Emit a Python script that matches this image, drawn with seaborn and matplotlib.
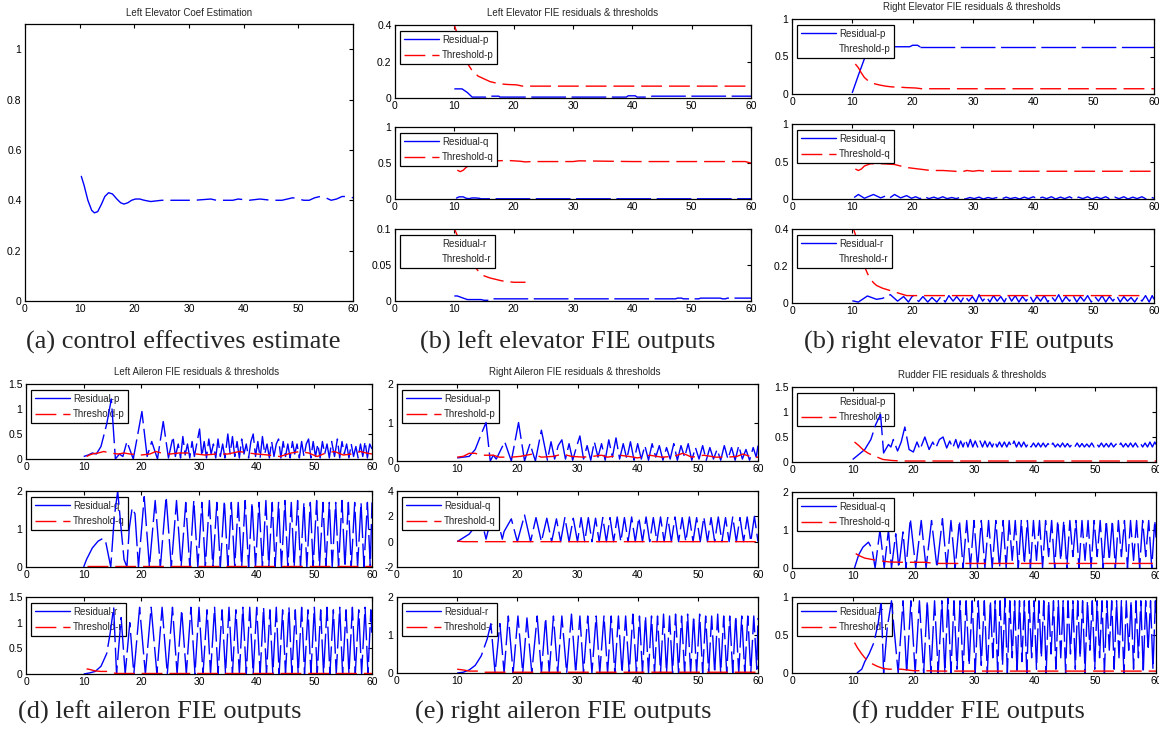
import matplotlib
matplotlib.use("Agg")
import matplotlib.pyplot as plt
from matplotlib.lines import Line2D
import seaborn as sns

sns.set_theme(style="white")
plt.rcParams["font.family"] = ["Liberation Sans", "DejaVu Sans"]

# ---------------- data: (time s, value) ----------------
coef_est = [(10.3, 0.495), (10.8, 0.46), (11.5, 0.40), (12.2, 0.36), (12.7, 0.35), (13.3, 0.355),
            (14.0, 0.385), (14.6, 0.415), (15.3, 0.43), (16.0, 0.425), (16.8, 0.405), (17.5, 0.39),
            (18.1, 0.385), (18.8, 0.39), (19.5, 0.40), (20.2, 0.405), (21.0, 0.405), (21.8, 0.40),
            (23.0, 0.395), (25.0, 0.40), (28.0, 0.40), (31.0, 0.40), (34.0, 0.405), (35.0, 0.40),
            (38.0, 0.40), (39.0, 0.405), (41.0, 0.40), (43.0, 0.405), (45.0, 0.40), (47.0, 0.40),
            (48.0, 0.405), (49.0, 0.41), (50.0, 0.405), (51.0, 0.40), (52.0, 0.40), (53.0, 0.41),
            (54.0, 0.415), (55.0, 0.41), (56.0, 0.40), (57.0, 0.405), (58.0, 0.415), (59.0, 0.415),
            (60.0, 0.41)]

# left elevator
le_res_p = [(10.0, 0.05), (11.3, 0.05), (12.2, 0.03), (13.0, 0.005), (15.3, 0.005), (15.5, 0.01),
            (17.5, 0.01), (17.7, 0.005), (39.0, 0.005), (39.3, 0.012), (40.5, 0.012), (40.8, 0.005),
            (43.0, 0.005), (43.3, 0.01), (60.0, 0.01)]
le_thr_p = [(10.0, 0.40), (10.3, 0.37), (11.0, 0.28), (12.0, 0.20), (13.0, 0.15), (14.0, 0.12),
            (15.0, 0.105), (16.0, 0.09), (17.5, 0.078), (19.0, 0.074), (20.5, 0.072), (21.5, 0.065),
            (60.0, 0.065)]
le_res_q = [(10.3, 0.01), (10.8, 0.03), (11.5, 0.03), (12.0, 0.01), (12.5, 0.005), (13.0, 0.015),
            (13.5, 0.015), (14.2, 0.01), (14.5, 0.003), (60.0, 0.003)]
le_thr_q = [(10.5, 0.40), (11.0, 0.38), (11.5, 0.40), (12.0, 0.44), (13.0, 0.49), (15.0, 0.52),
            (17.0, 0.53), (19.0, 0.535), (21.0, 0.525), (22.0, 0.515), (23.0, 0.52), (30.0, 0.52),
            (31.0, 0.53), (40.0, 0.52), (59.0, 0.52), (60.0, 0.50)]
le_res_r = [(10.0, 0.007), (10.5, 0.007), (11.5, 0.004), (12.2, 0.002), (14.5, 0.002), (15.0, 0.001),
            (15.8, 0.001), (16.2, 0.003), (47.3, 0.003), (47.6, 0.004), (48.3, 0.004), (48.6, 0.003),
            (51.2, 0.003), (51.5, 0.004), (54.8, 0.004), (55.2, 0.003), (55.7, 0.003), (56.0, 0.004),
            (60.0, 0.004)]
le_thr_r = [(10.0, 0.10), (10.3, 0.095), (11.0, 0.08), (12.0, 0.065), (13.0, 0.052), (14.0, 0.042),
            (15.0, 0.035), (16.0, 0.032), (17.0, 0.030), (18.0, 0.028), (19.0, 0.027), (20.0, 0.026),
            (22.0, 0.026)]

# right elevator
re_res_p = [(10.0, 0.02), (11.0, 0.25), (12.0, 0.47), (12.7, 0.58), (13.5, 0.63), (18.0, 0.63),
            (19.5, 0.63), (20.0, 0.65), (20.8, 0.65), (21.2, 0.63), (60.0, 0.63)]
re_thr_p = [(10.5, 0.40), (11.0, 0.35), (11.5, 0.28), (12.0, 0.22), (12.7, 0.17), (13.5, 0.14),
            (14.5, 0.12), (15.5, 0.105), (16.5, 0.095), (18.0, 0.09), (19.0, 0.085), (20.5, 0.08),
            (21.5, 0.07), (60.0, 0.07)]
re_res_q = [(10.3, 0.02), (11.0, 0.06), (12.0, 0.01), (13.5, 0.06), (14.7, 0.015), (15.5, 0.04),
            (16.2, 0.015), (17.0, 0.06), (18.0, 0.015), (19.0, 0.045), (19.8, 0.01), (20.5, 0.03),
            (21.2, 0.005), (22.0, 0.03), (22.7, 0.005), (23.5, 0.025), (24.2, 0.005), (25.0, 0.03),
            (25.7, 0.005), (26.5, 0.02), (27.2, 0.005), (28.0, 0.025), (28.7, 0.0), (29.5, 0.02),
            (30.2, 0.005), (31.0, 0.025), (31.7, 0.0), (32.5, 0.02), (33.2, 0.005), (34.0, 0.02),
            (34.7, 0.0), (35.5, 0.025), (36.2, 0.005), (37.0, 0.02), (37.7, 0.0), (38.5, 0.025),
            (39.2, 0.005), (40.0, 0.03), (40.7, 0.0), (41.5, 0.025), (42.2, 0.005), (43.0, 0.03),
            (43.7, 0.0), (44.5, 0.025), (45.2, 0.005), (46.0, 0.03), (46.7, 0.0), (47.5, 0.025),
            (48.2, 0.005), (49.0, 0.03), (49.7, 0.0), (50.5, 0.025), (51.2, 0.005), (52.0, 0.03),
            (52.7, 0.0), (53.5, 0.025), (54.2, 0.005), (55.0, 0.03), (55.7, 0.0), (56.5, 0.025),
            (57.2, 0.005), (58.0, 0.03), (58.7, 0.0), (59.5, 0.025), (60.0, 0.01)]
re_thr_q = [(10.5, 0.40), (11.0, 0.38), (11.5, 0.40), (12.0, 0.44), (13.0, 0.47), (15.0, 0.47),
            (17.0, 0.46), (18.0, 0.44), (19.0, 0.42), (20.0, 0.41), (21.0, 0.40), (22.0, 0.39),
            (23.0, 0.38), (25.0, 0.38), (27.0, 0.37), (28.0, 0.36), (29.0, 0.38), (30.0, 0.37),
            (31.0, 0.38), (32.0, 0.37), (60.0, 0.37)]
re_res_r = [(10.0, 0.012), (11.0, 0.005), (12.5, 0.038), (14.0, 0.02), (15.0, 0.025), (16.3, 0.045),
            (17.5, 0.01), (18.5, 0.035), (19.3, 0.005), (20.0, 0.04), (21.0, 0.008), (21.7, 0.035),
            (22.5, 0.005), (23.2, 0.03), (24.0, 0.005), (24.7, 0.035), (25.4, 0.005), (26.0, 0.04),
            (26.7, 0.01), (27.3, 0.035), (28.0, 0.005), (28.6, 0.04), (29.3, 0.01), (29.9, 0.035),
            (30.5, 0.005), (31.0, 0.045), (31.6, 0.01), (32.2, 0.035), (32.8, 0.005), (33.4, 0.04),
            (34.0, 0.01), (34.6, 0.035), (35.2, 0.005), (35.8, 0.045), (36.4, 0.01), (37.0, 0.04),
            (37.6, 0.005), (38.2, 0.035), (38.8, 0.01), (39.4, 0.04), (40.0, 0.005), (40.6, 0.035),
            (41.2, 0.01), (41.8, 0.04), (42.4, 0.005), (43.0, 0.035), (43.6, 0.01), (44.2, 0.045),
            (44.8, 0.005), (45.4, 0.035), (46.0, 0.01), (46.6, 0.04), (47.2, 0.005), (47.8, 0.035),
            (48.4, 0.01), (49.0, 0.04), (49.6, 0.005), (50.2, 0.035), (50.8, 0.01), (51.4, 0.04),
            (52.0, 0.005), (52.6, 0.035), (53.2, 0.01), (53.8, 0.04), (54.4, 0.005), (55.0, 0.035),
            (55.6, 0.01), (56.2, 0.03), (56.8, 0.005), (57.4, 0.035), (58.0, 0.01), (58.6, 0.04),
            (59.2, 0.005), (59.7, 0.04), (60.0, 0.02)]
re_thr_r = [(10.2, 0.40), (10.5, 0.37), (11.0, 0.31), (11.5, 0.25), (12.0, 0.20), (12.5, 0.16),
            (13.0, 0.13), (13.5, 0.11), (14.0, 0.095), (15.0, 0.08), (16.0, 0.07), (17.0, 0.06),
            (18.0, 0.05), (19.0, 0.04), (58.0, 0.04)]

# left aileron
la_res_p = [(10.0, 0.05), (10.8, 0.08), (11.5, 0.12), (12.2, 0.1), (13.0, 0.25), (14.0, 0.7),
            (14.8, 1.2), (15.5, 0.0), (16.2, 0.1), (16.8, 0.05), (17.5, 0.35), (18.6, 0.0),
            (20.1, 0.95), (21.0, 0.05), (21.8, 0.35), (22.8, 0.0), (23.8, 0.75), (24.7, 0.02),
            (25.5, 0.45), (25.9, 0.05), (26.4, 0.3), (26.8, 0.02), (27.2, 0.45), (27.6, 0.08),
            (28.0, 0.3), (28.4, 0.02), (28.8, 0.35), (29.2, 0.05), (29.6, 0.3), (30.1, 0.6),
            (30.5, 0.05), (30.9, 0.35), (31.3, 0.02), (31.7, 0.4), (32.1, 0.1), (32.5, 0.3),
            (32.9, 0.02), (33.3, 0.4), (33.7, 0.05), (34.1, 0.3), (34.5, 0.02), (35.0, 0.5),
            (35.4, 0.1), (35.8, 0.45), (36.2, 0.05), (36.6, 0.35), (37.0, 0.02), (37.4, 0.4),
            (37.8, 0.1), (38.2, 0.3), (38.6, 0.02), (39.0, 0.35), (39.4, 0.5), (39.8, 0.05),
            (40.2, 0.35), (40.6, 0.02), (41.0, 0.45), (41.4, 0.1), (41.8, 0.3), (42.2, 0.02),
            (42.6, 0.35), (43.0, 0.05), (43.4, 0.3), (43.8, 0.4), (44.2, 0.02), (44.6, 0.35),
            (45.0, 0.05), (45.4, 0.3), (45.8, 0.02), (46.2, 0.35), (46.6, 0.1), (47.0, 0.3),
            (47.4, 0.02), (47.8, 0.35), (48.2, 0.05), (48.6, 0.3), (49.0, 0.4), (49.4, 0.02),
            (49.8, 0.35), (50.2, 0.05), (50.6, 0.3), (51.0, 0.02), (51.4, 0.35), (51.8, 0.1),
            (52.2, 0.3), (52.6, 0.02), (53.0, 0.35), (53.5, 0.05), (54.0, 0.4), (54.4, 0.02),
            (54.8, 0.35), (55.2, 0.1), (55.6, 0.3), (56.0, 0.02), (56.4, 0.3), (56.8, 0.05),
            (57.2, 0.25), (57.6, 0.02), (58.0, 0.3), (58.4, 0.05), (58.8, 0.35), (59.2, 0.02),
            (59.6, 0.3), (60.0, 0.2)]
la_thr_p = [(10.5, 0.05), (11.0, 0.08), (11.5, 0.1), (12.5, 0.12), (13.5, 0.15), (14.5, 0.12),
            (16.0, 0.1), (17.0, 0.12), (18.0, 0.1), (20.0, 0.08), (21.5, 0.1), (22.5, 0.15),
            (23.5, 0.12), (25.0, 0.1), (26.5, 0.12), (28.0, 0.12), (29.5, 0.1), (31.0, 0.08),
            (33.0, 0.1), (35.0, 0.1), (37.0, 0.15), (38.5, 0.12), (40.0, 0.1), (42.0, 0.08),
            (44.0, 0.05), (46.0, 0.12), (47.5, 0.15), (49.0, 0.12), (50.5, 0.05), (52.0, 0.12),
            (53.5, 0.15), (55.0, 0.08), (56.5, 0.1), (58.0, 0.15), (59.0, 0.12), (60.0, 0.1)]
la_res_q = [(10.0, 0.0), (10.5, 0.2), (11.5, 0.5), (12.5, 0.68), (13.3, 0.75), (13.8, 0.68),
            (14.3, 0.3), (14.7, 0.0), (15.3, 1.3), (15.9, 2.0), (16.5, 1.0), (17.0, 0.2),
            (17.5, 0.0), (17.9, 1.0), (18.4, 1.55), (18.9, 1.4), (19.5, 0.0), (20.5, 1.85),
            (21.4, 0.0), (22.4, 1.75), (23.3, 0.0), (24.3, 1.85), (25.2, 0.0), (26.1, 1.75),
            (26.9, 0.0), (27.7, 1.7), (28.4, 0.0), (29.1, 1.75), (29.8, 0.0), (30.5, 1.7),
            (31.1, 0.0), (31.8, 1.75), (32.4, 0.0), (33.1, 1.7), (33.7, 0.0), (34.4, 1.75),
            (35.0, 0.0), (35.6, 1.7), (36.2, 0.0), (36.8, 1.7), (37.4, 0.0), (38.0, 1.75),
            (38.6, 0.0), (39.2, 1.7), (39.8, 0.0), (40.4, 1.7), (41.0, 0.0), (41.6, 1.75),
            (42.1, 0.0), (42.7, 1.7), (43.2, 0.0), (43.8, 1.7), (44.3, 0.0), (44.9, 1.75),
            (45.4, 0.0), (46.0, 1.7), (46.5, 0.0), (47.1, 1.75), (47.6, 0.0), (48.2, 1.7),
            (48.7, 0.0), (49.3, 1.7), (49.8, 0.0), (50.4, 1.75), (50.9, 0.0), (51.5, 1.7),
            (52.0, 0.0), (52.6, 1.7), (53.1, 0.0), (53.7, 1.7), (54.2, 0.0), (54.8, 1.75),
            (55.3, 0.0), (55.9, 1.7), (56.4, 0.0), (57.0, 1.7), (57.5, 0.0), (58.1, 1.7),
            (58.6, 0.0), (59.2, 1.7), (59.7, 0.0), (60.0, 1.7)]
la_thr_q = [(10.5, 0.03), (60.0, 0.03)]
la_res_r = [(10.0, 0.0), (11.0, 0.02), (12.0, 0.05), (13.0, 0.15), (14.0, 0.4), (14.6, 0.8),
            (15.2, 1.3), (15.7, 0.0), (16.5, 1.1), (17.2, 0.0), (18.0, 1.0), (18.7, 0.0),
            (19.7, 1.3), (20.7, 0.0), (21.7, 1.3), (22.7, 0.0), (23.6, 1.3), (24.5, 0.0),
            (25.4, 1.3), (26.2, 0.0), (27.0, 1.25), (27.8, 0.0), (28.6, 1.3), (29.3, 0.0),
            (30.0, 1.3), (30.7, 0.0), (31.4, 1.25), (32.0, 0.0), (32.7, 1.3), (33.3, 0.0),
            (34.0, 1.25), (34.6, 0.0), (35.2, 1.3), (35.8, 0.0), (36.4, 1.25), (37.0, 0.0),
            (37.6, 1.3), (38.2, 0.0), (38.8, 1.3), (39.4, 0.0), (40.0, 1.3), (40.6, 0.0),
            (41.2, 1.3), (41.7, 0.0), (42.3, 1.25), (42.8, 0.0), (43.4, 1.3), (43.9, 0.0),
            (44.5, 1.25), (45.0, 0.0), (45.6, 1.3), (46.1, 0.0), (46.7, 1.25), (47.2, 0.0),
            (47.8, 1.3), (48.3, 0.0), (48.9, 1.25), (49.4, 0.0), (50.0, 1.3), (50.5, 0.0),
            (51.1, 1.25), (51.6, 0.0), (52.2, 1.3), (52.7, 0.0), (53.3, 1.25), (53.8, 0.0),
            (54.4, 1.3), (54.9, 0.0), (55.5, 1.25), (56.0, 0.0), (56.6, 1.3), (57.1, 0.0),
            (57.7, 1.25), (58.2, 0.0), (58.8, 1.3), (59.3, 0.0), (59.8, 1.25), (60.0, 0.7)]
la_thr_r = [(10.5, 0.1), (11.0, 0.09), (12.0, 0.06), (13.0, 0.05), (14.0, 0.05), (15.0, 0.02),
            (16.0, 0.01), (60.0, 0.01)]

# right aileron
ra_res_p = [(10.0, 0.08), (11.0, 0.1), (12.0, 0.12), (13.0, 0.3), (14.0, 0.7), (14.8, 1.0),
            (15.5, 0.0), (16.0, 0.15), (16.5, 0.05), (17.9, 0.5), (19.0, 0.0), (20.2, 1.0),
            (21.2, 0.0), (22.1, 0.45), (23.0, 0.0), (24.0, 0.8), (25.0, 0.02), (25.6, 0.5),
            (26.2, 0.05), (26.8, 0.4), (27.4, 0.55), (28.0, 0.05), (28.6, 0.45), (29.2, 0.02),
            (29.8, 0.35), (30.4, 0.65), (31.0, 0.05), (31.6, 0.4), (32.2, 0.02), (32.8, 0.5),
            (33.4, 0.1), (34.0, 0.45), (34.6, 0.02), (35.2, 0.55), (35.8, 0.1), (36.4, 0.6),
            (37.0, 0.05), (37.6, 0.45), (38.2, 0.05), (38.8, 0.5), (39.4, 0.02), (40.0, 0.45),
            (40.6, 0.05), (41.2, 0.4), (41.8, 0.02), (42.4, 0.45), (43.0, 0.1), (43.6, 0.4),
            (44.2, 0.02), (44.8, 0.35), (45.4, 0.05), (46.0, 0.45), (46.6, 0.02), (47.2, 0.4),
            (47.8, 0.1), (48.4, 0.45), (49.0, 0.02), (49.6, 0.35), (50.2, 0.05), (50.8, 0.4),
            (51.4, 0.02), (52.0, 0.35), (52.6, 0.05), (53.2, 0.3), (53.8, 0.02), (54.4, 0.4),
            (55.0, 0.05), (55.6, 0.35), (56.2, 0.02), (56.8, 0.4), (57.4, 0.05), (58.0, 0.3),
            (58.6, 0.02), (59.2, 0.35), (59.7, 0.1), (60.0, 0.4)]
ra_thr_p = [(10.0, 0.1), (11.0, 0.12), (12.0, 0.2), (13.0, 0.2), (14.0, 0.15), (16.0, 0.15),
            (17.0, 0.1), (19.0, 0.1), (20.5, 0.12), (22.5, 0.18), (24.0, 0.1), (26.0, 0.12),
            (27.5, 0.18), (29.0, 0.12), (31.0, 0.1), (32.5, 0.12), (34.0, 0.15), (35.0, 0.1),
            (37.0, 0.15), (38.5, 0.12), (40.0, 0.08), (42.0, 0.15), (44.0, 0.1), (46.0, 0.12),
            (47.5, 0.2), (49.0, 0.1), (51.0, 0.15), (53.0, 0.1), (55.0, 0.1), (56.5, 0.12),
            (57.5, 0.18), (59.0, 0.1), (60.0, 0.1)]
ra_res_q = [(10.0, 0.0), (11.0, 0.3), (12.0, 0.6), (13.0, 1.2), (14.0, 1.5), (14.5, 0.8),
            (14.8, 0.2), (15.1, 0.8), (16.0, 1.6), (17.2, 0.8), (17.5, 0.2), (17.8, 0.8),
            (19.0, 1.8), (20.0, 0.0), (21.2, 2.1), (22.2, 0.0), (23.1, 1.9), (24.0, 0.0),
            (24.9, 1.85), (25.7, 0.0), (26.5, 1.8), (27.2, 0.0), (27.9, 1.9), (28.6, 0.0),
            (29.3, 1.85), (30.0, 0.0), (30.6, 1.9), (31.2, 0.0), (31.8, 1.9), (32.4, 0.0),
            (33.0, 1.85), (33.6, 0.0), (34.2, 1.9), (34.8, 0.0), (35.4, 1.9), (36.0, 0.0),
            (36.6, 1.95), (37.2, 0.0), (37.8, 1.9), (38.4, 0.0), (39.0, 1.95), (39.6, 0.0),
            (40.2, 1.9), (40.8, 0.0), (41.4, 1.95), (42.0, 0.0), (42.6, 1.9), (43.2, 0.0),
            (43.8, 1.95), (44.4, 0.0), (45.0, 1.9), (45.6, 0.0), (46.2, 1.95), (46.8, 0.0),
            (47.4, 1.9), (48.0, 0.0), (48.6, 1.95), (49.2, 0.0), (49.8, 1.9), (50.4, 0.0),
            (51.0, 1.95), (51.6, 0.0), (52.2, 1.9), (52.8, 0.0), (53.4, 1.95), (54.0, 0.0),
            (54.6, 1.9), (55.2, 0.0), (55.8, 1.95), (56.4, 0.0), (57.0, 1.9), (57.6, 0.0),
            (58.2, 1.95), (58.8, 0.0), (59.4, 2.0), (60.0, 0.0)]
ra_thr_q = [(10.0, 0.05), (11.0, 0.0), (60.0, 0.0)]
ra_res_r = [(10.0, 0.0), (11.0, 0.02), (12.0, 0.08), (13.0, 0.2), (14.0, 0.45), (15.0, 0.9),
            (15.6, 1.3), (16.3, 0.0), (17.1, 1.3), (17.8, 0.0), (18.5, 1.5), (19.3, 0.0),
            (20.1, 1.5), (20.9, 0.0), (21.6, 1.45), (22.4, 0.0), (23.3, 1.5), (24.0, 0.0),
            (24.7, 1.45), (25.3, 0.0), (26.0, 1.5), (26.7, 0.0), (27.4, 1.5), (28.2, 0.0),
            (29.0, 1.55), (29.7, 0.0), (30.4, 1.5), (31.0, 0.0), (31.7, 1.5), (32.4, 0.0),
            (33.1, 1.5), (33.7, 0.0), (34.4, 1.5), (35.0, 0.0), (35.6, 1.5), (36.2, 0.0),
            (36.8, 1.5), (37.4, 0.0), (38.0, 1.5), (38.6, 0.0), (39.2, 1.55), (39.8, 0.0),
            (40.3, 1.5), (40.8, 0.0), (41.3, 1.5), (41.8, 0.0), (42.3, 1.5), (42.8, 0.0),
            (43.3, 1.5), (43.8, 0.0), (44.3, 1.55), (44.8, 0.0), (45.3, 1.5), (45.8, 0.0),
            (46.3, 1.55), (46.8, 0.0), (47.3, 1.5), (47.8, 0.0), (48.3, 1.55), (48.8, 0.0),
            (49.3, 1.5), (49.8, 0.0), (50.3, 1.55), (50.8, 0.0), (51.3, 1.5), (51.8, 0.0),
            (52.3, 1.5), (52.8, 0.0), (53.3, 1.55), (53.8, 0.0), (54.3, 1.5), (54.8, 0.0),
            (55.3, 1.5), (55.8, 0.0), (56.3, 1.5), (56.8, 0.0), (57.3, 1.5), (57.8, 0.0),
            (58.3, 1.5), (58.8, 0.0), (59.3, 1.5), (59.8, 0.1), (60.0, 1.45)]
ra_thr_r = [(10.0, 0.1), (11.0, 0.08), (12.0, 0.05), (13.5, 0.05), (14.5, 0.02), (60.0, 0.02)]

# rudder
ru_res_p = [(10.0, 0.05), (11.0, 0.15), (12.0, 0.25), (13.0, 0.45), (13.8, 0.75), (14.6, 0.95),
            (15.1, 0.18), (15.9, 0.35), (16.3, 0.3), (16.7, 0.45), (17.4, 0.22), (18.0, 0.4),
            (18.6, 0.7), (19.3, 0.25), (20.0, 0.2), (20.6, 0.4), (21.1, 0.25), (21.9, 0.5),
            (22.6, 0.25), (23.2, 0.4), (23.7, 0.28), (24.3, 0.45), (24.9, 0.5), (25.5, 0.28),
            (26.0, 0.42), (26.5, 0.28), (27.0, 0.45), (27.4, 0.28), (27.8, 0.42), (28.2, 0.3),
            (28.6, 0.45), (29.0, 0.3), (29.4, 0.45), (29.8, 0.3), (30.2, 0.42), (30.6, 0.3),
            (31.0, 0.42), (31.4, 0.3), (31.8, 0.42), (32.2, 0.3), (32.6, 0.4), (33.0, 0.3),
            (33.4, 0.42), (33.8, 0.3), (34.2, 0.4), (34.6, 0.3), (35.0, 0.4), (35.4, 0.3),
            (35.8, 0.4), (36.2, 0.3), (36.6, 0.42), (37.0, 0.3), (37.4, 0.4), (37.8, 0.3),
            (38.2, 0.4), (38.6, 0.3), (39.0, 0.38), (39.4, 0.3), (39.8, 0.38), (40.2, 0.3),
            (40.6, 0.38), (41.0, 0.3), (41.4, 0.38), (41.8, 0.3), (42.2, 0.37), (42.6, 0.3),
            (43.0, 0.38), (43.4, 0.3), (43.8, 0.36), (44.2, 0.3), (44.6, 0.38), (45.0, 0.3),
            (45.4, 0.37), (45.8, 0.3), (46.2, 0.36), (46.6, 0.3), (47.0, 0.38), (47.4, 0.3),
            (47.8, 0.37), (48.2, 0.3), (48.6, 0.36), (49.0, 0.3), (49.4, 0.38), (49.8, 0.3),
            (50.2, 0.37), (50.6, 0.3), (51.0, 0.38), (51.4, 0.3), (51.8, 0.37), (52.2, 0.3),
            (52.6, 0.38), (53.0, 0.3), (53.4, 0.36), (53.8, 0.3), (54.2, 0.38), (54.6, 0.3),
            (55.0, 0.37), (55.4, 0.3), (55.8, 0.38), (56.2, 0.3), (56.6, 0.38), (57.0, 0.3),
            (57.4, 0.38), (57.8, 0.3), (58.2, 0.38), (58.6, 0.3), (59.0, 0.4), (59.4, 0.3),
            (59.8, 0.4), (60.0, 0.35)]
ru_thr_p = [(10.3, 0.4), (11.0, 0.33), (11.5, 0.27), (12.0, 0.22), (12.5, 0.18), (13.0, 0.15),
            (14.0, 0.1), (15.0, 0.05), (16.5, 0.03), (18.0, 0.02), (60.0, 0.02)]
ru_res_q = [(10.3, 0.0), (11.0, 0.35), (11.7, 0.55), (12.6, 0.68), (13.2, 0.5), (13.7, 0.0),
            (14.5, 1.0), (15.2, 0.0), (15.9, 1.0), (16.4, 0.0), (17.1, 0.9), (17.6, 0.0),
            (18.3, 0.95), (18.8, 0.0), (19.5, 1.3), (20.4, 0.0), (21.3, 1.25), (22.1, 0.0),
            (23.0, 1.25), (23.9, 0.0), (24.8, 1.3), (25.5, 0.0), (26.2, 1.25), (26.9, 0.0),
            (27.6, 1.25), (28.2, 0.0), (28.8, 1.25), (29.4, 0.0), (30.0, 1.25), (30.6, 0.0),
            (31.2, 1.25), (31.8, 0.0), (32.4, 1.25), (33.0, 0.0), (33.6, 1.25), (34.2, 0.0),
            (34.8, 1.25), (35.3, 0.0), (35.8, 1.25), (36.3, 0.2), (36.8, 1.25), (37.3, 0.0),
            (37.8, 1.25), (38.3, 0.1), (38.8, 1.25), (39.3, 0.0), (39.8, 1.25), (40.3, 0.2),
            (40.8, 1.25), (41.3, 0.0), (41.8, 1.25), (42.3, 0.3), (42.8, 1.25), (43.3, 0.0),
            (43.8, 1.25), (44.3, 0.2), (44.8, 1.25), (45.3, 0.0), (45.8, 1.25), (46.3, 0.3),
            (46.8, 1.25), (47.3, 0.0), (47.8, 1.25), (48.3, 0.2), (48.8, 1.25), (49.3, 0.0),
            (49.8, 1.25), (50.3, 0.3), (50.8, 1.25), (51.3, 0.0), (51.8, 1.25), (52.3, 0.2),
            (52.8, 1.25), (53.3, 0.0), (53.8, 1.25), (54.3, 0.3), (54.8, 1.25), (55.3, 0.0),
            (55.8, 1.25), (56.3, 0.2), (56.8, 1.25), (57.3, 0.0), (57.8, 1.25), (58.3, 0.3),
            (58.8, 1.25), (59.3, 0.0), (59.8, 1.25), (60.0, 0.8)]
ru_thr_q = [(10.5, 0.38), (11.0, 0.33), (12.0, 0.26), (13.0, 0.23), (14.0, 0.2), (15.0, 0.18),
            (16.0, 0.16), (18.0, 0.15), (22.0, 0.15), (23.0, 0.13), (24.0, 0.12), (60.0, 0.12)]
ru_res_r = [(10.7, 0.0), (11.5, 0.05), (12.0, 0.15), (12.7, 0.25), (13.5, 0.4), (14.2, 0.65),
            (14.7, 0.95), (15.1, 0.0), (15.7, 0.6), (16.4, 0.95), (17.5, 0.0), (18.3, 0.95),
            (18.9, 0.0), (19.6, 0.95), (20.3, 0.0), (21.0, 0.95), (21.7, 0.0), (22.3, 0.95),
            (22.9, 0.0), (23.5, 0.95), (24.1, 0.0), (24.7, 0.95), (25.2, 0.0), (25.7, 0.98),
            (26.2, 0.0), (26.7, 0.95), (27.2, 0.05), (27.7, 0.95), (28.2, 0.0), (28.7, 0.95),
            (29.2, 0.1), (29.7, 0.95), (30.2, 0.0), (30.7, 0.95), (31.2, 0.1), (31.7, 0.95),
            (32.2, 0.0), (32.7, 0.95), (33.1, 0.2), (33.5, 0.95), (33.9, 0.0), (34.3, 0.95),
            (34.7, 0.1), (35.1, 0.98), (35.5, 0.0), (35.9, 0.95), (36.3, 0.2), (36.7, 0.95),
            (37.1, 0.0), (37.5, 0.95), (37.9, 0.15), (38.3, 0.95), (38.7, 0.0), (39.1, 0.95),
            (39.5, 0.2), (39.9, 0.95), (40.3, 0.05), (40.7, 0.95), (41.1, 0.2), (41.5, 0.95),
            (41.9, 0.0), (42.3, 0.95), (42.7, 0.25), (43.1, 0.95), (43.5, 0.05), (43.9, 0.95),
            (44.3, 0.2), (44.7, 0.95), (45.1, 0.0), (45.5, 0.95), (45.9, 0.25), (46.3, 0.95),
            (46.7, 0.05), (47.1, 0.95), (47.5, 0.2), (47.9, 0.95), (48.3, 0.0), (48.7, 0.95),
            (49.1, 0.3), (49.5, 0.95), (49.9, 0.05), (50.3, 0.95), (50.7, 0.2), (51.1, 0.95),
            (51.5, 0.0), (51.9, 0.95), (52.3, 0.3), (52.7, 0.95), (53.1, 0.05), (53.5, 0.95),
            (53.9, 0.2), (54.3, 0.95), (54.7, 0.0), (55.1, 0.95), (55.5, 0.3), (55.9, 0.95),
            (56.3, 0.05), (56.7, 0.95), (57.1, 0.2), (57.5, 0.95), (57.9, 0.0), (58.3, 0.95),
            (58.7, 0.3), (59.1, 0.95), (59.5, 0.05), (59.9, 0.95), (60.0, 0.75)]
ru_thr_r = [(10.3, 0.4), (10.8, 0.33), (11.5, 0.25), (12.0, 0.2), (12.5, 0.16), (13.0, 0.13),
            (14.0, 0.09), (15.0, 0.06), (16.0, 0.05), (18.0, 0.05), (19.0, 0.04), (20.0, 0.03),
            (22.0, 0.03), (24.0, 0.025), (60.0, 0.025)]

x_ticks = [0, 10, 20, 30, 40, 50, 60]
yt_01 = ([0, 0.5, 1], ["0", "0.5", "1"])
yt_015 = ([0, 0.5, 1, 1.5], ["0", "0.5", "1", "1.5"])
yt_02 = ([0, 1, 2], ["0", "1", "2"])
yt_04 = ([0, 0.2, 0.4], ["0", "0.2", "0.4"])
yt_001 = ([0, 0.05, 0.1], ["0", "0.05", "0.1"])
yt_m24 = ([-2, 0, 2, 4], ["-2", "0", "2", "4"])

# --------------------------- figure ---------------------------
W, H = 1159, 729
fig = plt.figure(figsize=(W / 100, H / 100), dpi=100)
BLUE, RED = "#0000ff", "#ff0000"
LW = 1.0
THR_DASH = (15, 5)


def add_ax(l, r, t, b):
    return fig.add_axes([l / W, 1 - b / H, (r - l) / W, (b - t) / H])


def style(ax, ylim, yt):
    ax.set_xlim(0, 60)
    ax.set_xticks(x_ticks)
    ax.set_xticklabels([str(v) for v in x_ticks])
    ax.set_ylim(*ylim)
    ax.set_yticks(yt[0])
    ax.set_yticklabels(yt[1])
    ax.set_xlabel("")
    ax.set_ylabel("")
    ax.tick_params(direction="in", top=True, right=True, length=3, width=0.8,
                   labelsize=7.5, pad=2.5, colors="black")
    for s in ax.spines.values():
        s.set_color("black")
        s.set_linewidth(0.9)


def draw(ax, pts, color, dashes=None, cut=None):
    if cut is not None:
        i = next(k for k, p in enumerate(pts) if p[0] > cut)
        draw(ax, pts[:i], color)
        draw(ax, pts[i - 1:], color, dashes)
        return
    sns.lineplot(x=[p[0] for p in pts], y=[p[1] for p in pts], ax=ax, sort=False,
                 estimator=None, color=color, linewidth=LW, legend=False, zorder=2)
    if dashes:
        ax.lines[-1].set_dashes(dashes)


def add_legend(ax, labels, show, over, wpx, hpx):
    h1 = Line2D([], [], color=BLUE if show[0] else "none", lw=LW)
    h2 = Line2D([], [], color=RED if show[1] else "none", lw=LW)
    h2.set_dashes(THR_DASH)
    leg = ax.legend([h1, h2], labels, loc="upper left", bbox_to_anchor=(5 / wpx, 1 - 6 / hpx),
                    borderaxespad=0, fontsize=7, handlelength=3.6, handletextpad=0.3,
                    borderpad=0.4, labelspacing=0.55, frameon=True, fancybox=False,
                    framealpha=1, edgecolor="black")
    leg.get_frame().set_linewidth(0.9)
    leg.set_zorder(1 if over else 5)


# (a) coefficient estimate
ax = add_ax(25, 353, 24, 301)
draw(ax, coef_est, BLUE, dashes=(14, 5), cut=22)
style(ax, (0, 1.1), ([0, 0.2, 0.4, 0.6, 0.8, 1], ["0", "0.2", "0.4", "0.6", "0.8", "1"]))
fig.text(189 / W, 1 - 13 / H, "Left Elevator Coef Estimation", ha="center", va="center", fontsize=7)

# FIE panels: title, title xy, left, right, rows
# row: top, bottom, residual, threshold, ylim, yticks, axis letter, handles shown,
#      lines drawn over legend, residual dash start
panels = [
    ("Left Elevator FIE residuals & thresholds", 573, 13, 395, 751,
     [(25, 98, le_res_p, le_thr_p, (0, 0.4), yt_04, "p", (1, 1), 0, None),
      (127, 199, le_res_q, le_thr_q, (0, 1), yt_01, "q", (1, 1), 0, None),
      (229, 301, le_res_r, le_thr_r, (0, 0.1), yt_001, "r", (0, 0), 0, None)]),
    ("Right Elevator FIE residuals & thresholds", 972, 7, 792, 1154,
     [(19, 94, re_res_p, re_thr_p, (0, 1), yt_01, "p", (1, 0), 0, 21.2),
      (124, 199, re_res_q, re_thr_q, (0, 1), yt_01, "q", (1, 1), 0, None),
      (229, 303, re_res_r, re_thr_r, (0, 0.4), yt_04, "r", (1, 0), 0, None)]),
    ("Left Aileron FIE residuals & thresholds", 197, 372, 26, 372,
     [(384, 459, la_res_p, la_thr_p, (0, 1.5), yt_015, "p", (1, 1), 1, None),
      (491, 567, la_res_q, la_thr_q, (0, 2), yt_02, "q", (1, 1), 1, None),
      (597, 674, la_res_r, la_thr_r, (0, 1.5), yt_015, "r", (1, 1), 1, None)]),
    ("Right Aileron FIE residuals & thresholds", 575, 372, 397, 758,
     [(384, 461, ra_res_p, ra_thr_p, (0, 2), yt_02, "p", (1, 1), 1, None),
      (491, 567, ra_res_q, ra_thr_q, (-2, 4), yt_m24, "q", (1, 1), 0, None),
      (597, 673, ra_res_r, ra_thr_r, (0, 2), yt_02, "r", (1, 1), 1, None)]),
    ("Rudder FIE residuals & thresholds", 972, 375, 792, 1156,
     [(387, 462, ru_res_p, ru_thr_p, (0, 1.5), yt_015, "p", (0, 1), 1, None),
      (492, 568, ru_res_q, ru_thr_q, (0, 2), yt_02, "q", (1, 1), 0, None),
      (597, 673, ru_res_r, ru_thr_r, (0, 1), yt_01, "r", (1, 1), 1, None)]),
]

for title, tx, ty, left, right, rows in panels:
    fig.text(tx / W, 1 - ty / H, title, ha="center", va="center", fontsize=7)
    for top, bot, res, thr, ylim, yt, k, show, over, cut in rows:
        ax = add_ax(left, right, top, bot)
        draw(ax, res, BLUE, dashes=(25, 4), cut=cut)
        draw(ax, thr, RED, dashes=THR_DASH)
        style(ax, ylim, yt)
        add_legend(ax, ["Residual-" + k, "Threshold-" + k], show, over, right - left, bot - top)

captions = [("(a) control effectives estimate", 183, 342), ("(b) left elevator FIE outputs", 568, 342),
            ("(b) right elevator FIE outputs", 959, 342), ("(d) left aileron FIE outputs", 160, 712),
            ("(e) right aileron FIE outputs", 563, 712), ("(f) rudder FIE outputs", 968, 712)]
for txt, cx, cy in captions:
    fig.text(cx / W, 1 - cy / H, txt, ha="center", va="center", fontsize=19,
             family=["Liberation Serif", "DejaVu Serif"])

fig.savefig("out.png", dpi=100)
